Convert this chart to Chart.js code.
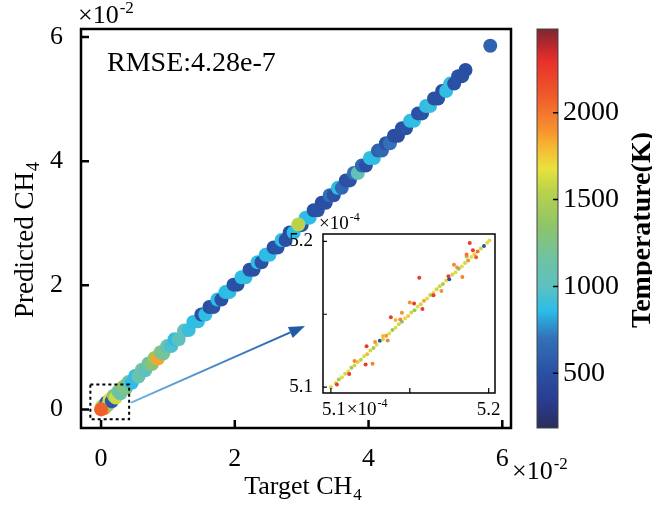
<!DOCTYPE html>
<html>
<head>
<meta charset="utf-8">
<script src="https://cdn.jsdelivr.net/npm/chart.js@4.4.0/dist/chart.umd.min.js"></script>
<style>
  html, body { margin: 0; padding: 0; background: #fff; }
  #wrap { position: relative; width: 652px; height: 510px; overflow: hidden; }
  #main { position: absolute; left: 0; top: 0; }
  #inset { position: absolute; left: 280px; top: 200px; }
</style>
</head>
<body>
<div id="wrap">
  <canvas id="main" width="652" height="510"></canvas>
  <canvas id="inset" width="240" height="225"></canvas>
</div>
<script>
// main panel, values in units of 1e-2
const targetCH4 = [0.02, 0.05, 0.08, 0.10, 0.13, 0.16, 0.19, 0.22, 0.26, 0.29, 0.33, 0.37, 0.41, 0.46, 0.51,
  0.56, 0.61, 0.66, 0.71, 0.76, 0.80, 0.85, 0.89, 0.93, 0.99, 1.05, 1.10, 1.16, 1.24, 1.31, 1.38, 1.45,
  1.50, 1.56, 1.62, 1.68, 1.74, 1.80, 1.86, 1.92, 1.98, 2.04, 2.10, 2.16, 2.22, 2.28, 2.34, 2.40, 2.46,
  2.52, 2.58, 2.64, 2.70, 2.76, 2.82, 2.88, 3.00, 3.06, 3.12, 3.18, 3.24, 3.30, 3.36, 3.42, 3.48,
  3.54, 3.60, 3.66, 3.72, 3.78, 3.84, 3.90, 3.96, 4.02, 4.08, 4.14, 4.20, 4.26, 4.32, 4.38, 4.44, 4.50,
  4.56, 4.62, 4.68, 4.74, 4.80, 4.86, 4.92, 4.98, 5.04, 5.10, 5.16, 5.22, 5.28, 5.34, 5.40, 5.45,
  2.95, 5.82, 0.00];
const predictedCH4 = [0.05, 0.02, 0.11, 0.07, 0.16, 0.13, 0.22, 0.19, 0.29, 0.26, 0.36, 0.34, 0.44, 0.43, 0.54,
  0.53, 0.64, 0.63, 0.74, 0.73, 0.83, 0.82, 0.92, 0.90, 1.02, 1.02, 1.13, 1.13, 1.27, 1.28, 1.41, 1.42,
  1.53, 1.53, 1.65, 1.65, 1.77, 1.77, 1.89, 1.89, 2.01, 2.01, 2.13, 2.13, 2.25, 2.25, 2.37, 2.37, 2.49,
  2.49, 2.61, 2.61, 2.73, 2.73, 2.85, 2.85, 2.97, 3.09, 3.09, 3.21, 3.21, 3.33, 3.33, 3.45, 3.45,
  3.57, 3.57, 3.69, 3.69, 3.81, 3.81, 3.93, 3.93, 4.05, 4.05, 4.17, 4.17, 4.29, 4.29, 4.41, 4.41, 4.53,
  4.53, 4.65, 4.65, 4.77, 4.77, 4.89, 4.89, 5.01, 5.01, 5.13, 5.13, 5.25, 5.25, 5.37, 5.37, 5.47,
  2.98, 5.86, 0.00];
const temperature = [1500, 1950, 600, 1400, 1700, 550, 1300, 1600, 1200, 1100, 1350, 1250, 1150, 870, 880,
  1100, 1200, 1000, 1150, 1300, 1400, 1850, 1250, 1200, 1100, 950, 870, 1000, 1050, 900, 870, 880,
  520, 870, 500, 520, 870, 500, 860, 870, 520, 500, 870, 880, 520, 500, 870, 520, 860,
  870, 500, 520, 870, 500, 480, 860, 500, 870, 860, 500, 520, 480, 500, 700, 520,
  870, 650, 500, 520, 700, 1050, 650, 500, 880, 870, 600, 650, 520, 700, 500, 480, 500,
  520, 870, 880, 500, 520, 870, 900, 500, 500, 480, 870, 900, 500, 520, 500, 490,
  1550, 620, 2080];

// inset, values in units of 1e-4
const insetTarget = [5.100, 5.103, 5.105, 5.107, 5.109, 5.111, 5.113, 5.115, 5.117, 5.119, 5.121, 5.123,
  5.125, 5.127, 5.129, 5.131, 5.133, 5.135, 5.137, 5.139, 5.141, 5.143, 5.145, 5.147, 5.149, 5.151,
  5.153, 5.155, 5.157, 5.159, 5.161, 5.163, 5.165, 5.167, 5.169, 5.171, 5.173, 5.175, 5.177, 5.179,
  5.181, 5.183, 5.185, 5.187, 5.189, 5.191, 5.193, 5.195, 5.197, 5.199, 5.2005, 5.186,
  5.156, 5.138, 5.122, 5.1264, 5.158, 5.1833, 5.165, 5.188, 5.190, 5.178, 5.180, 5.1745, 5.150,
  5.1527, 5.144, 5.136, 5.1116, 5.1226, 5.145, 5.1038, 5.128, 5.141, 5.170, 5.186, 5.192, 5.115, 5.133];
const insetPredicted = [5.1000, 5.1028, 5.1052, 5.1068, 5.1092, 5.1108, 5.1133, 5.1148, 5.1172, 5.1188,
  5.1212, 5.1225, 5.1252, 5.1268, 5.1290, 5.1318, 5.1328, 5.1352, 5.1368, 5.1392, 5.1408, 5.1432,
  5.1448, 5.1472, 5.1488, 5.1512, 5.1528, 5.1552, 5.1568, 5.1592, 5.1608, 5.1632, 5.1648, 5.1672,
  5.1692, 5.1708, 5.1732, 5.1740, 5.1772, 5.1788, 5.1812, 5.1828, 5.1852, 5.1868, 5.1892, 5.1912,
  5.1930, 5.1950, 5.1968, 5.1990, 5.2005, 5.1895,
  5.175, 5.148, 5.1155, 5.116, 5.1536, 5.1755, 5.163, 5.1988, 5.1938, 5.184, 5.182, 5.176, 5.158,
  5.1573, 5.1464, 5.132, 5.109, 5.128, 5.151, 5.1018, 5.131, 5.146, 5.166, 5.191, 5.189, 5.118, 5.135];
const insetTemp = [1600, 1700, 1450, 1650, 1600, 1700, 1400, 1600, 1750, 1550, 1650, 1800,
  1600, 1450, 1700, 500, 1600, 1900, 1650, 1400, 1700, 1600, 1250, 1650, 1750, 1600,
  1400, 1700, 1600, 1850, 1650, 1550, 1700, 1600, 1600, 1450, 1700, 500, 1600, 1650,
  1300, 1700, 1600, 1900, 1650, 1750, 2000, 1600, 500, 1650, 1700, 1400,
  2250, 2250, 2250, 1950, 2250, 1950, 2250, 2250, 2250, 1950, 1900, 2250, 1900,
  2250, 1950, 1950, 2250, 2250, 1900, 2250, 1900, 1800, 1900, 2000, 2100, 1950, 1800];

const axisTicks = [0, 2, 4, 6];
const insetTicks = [5.1, 5.15, 5.2];
const cbarTicks = [500, 1000, 1500, 2000];
const tempMin = 184, tempMax = 2483;
const rmseLabel = 'RMSE:4.28e-7';

const SERIF = "'Liberation Serif', 'Times New Roman', serif";
Chart.defaults.font.family = SERIF;
Chart.defaults.color = '#000';

// colormap of the colour bar (temperature -> colour)
const cmap = [
  [184, '#2b2d5c'], [350, '#2a3d93'], [500, '#2a50a3'], [700, '#3370b8'], [860, '#2bbde8'],
  [1000, '#5ec1c0'], [1150, '#6dc2a5'], [1345, '#8ec46a'], [1550, '#bad24c'], [1680, '#e8e23c'],
  [1800, '#f6b833'], [1900, '#f6922e'], [2100, '#f05a2a'], [2300, '#e8302a'], [2400, '#b22630'],
  [2483, '#7a2a2e']
];

function hexRgb(h) {
  return [parseInt(h.slice(1, 3), 16), parseInt(h.slice(3, 5), 16), parseInt(h.slice(5, 7), 16)];
}

function tempColor(t) {
  if (t <= cmap[0][0]) return cmap[0][1];
  for (let i = 1; i < cmap.length; i++) {
    if (t <= cmap[i][0]) {
      const f = (t - cmap[i - 1][0]) / (cmap[i][0] - cmap[i - 1][0]);
      const a = hexRgb(cmap[i - 1][1]), b = hexRgb(cmap[i][1]);
      const c = a.map((v, k) => Math.round(v + (b[k] - v) * f));
      return `rgb(${c[0]},${c[1]},${c[2]})`;
    }
  }
  return cmap[cmap.length - 1][1];
}

// fixed size for a scale, no extra padding from its labels
function fixSize(prop, size) {
  return s => {
    s[prop] = size;
    s.paddingTop = s.paddingBottom = s.paddingLeft = s.paddingRight = 0;
  };
}

function setTicks(values) {
  return s => { s.ticks = values.map(value => ({ value })); };
}

// text with a sub/superscript part
function scriptWidth(ctx, base, script, size) {
  ctx.font = `${size}px ${SERIF}`;
  const w = ctx.measureText(base).width;
  ctx.font = `${Math.round(size * 0.65)}px ${SERIF}`;
  return w + 1 + ctx.measureText(script).width;
}

function drawScript(ctx, x, y, base, script, size, shift) {
  ctx.textAlign = 'left';
  ctx.textBaseline = 'alphabetic';
  ctx.font = `${size}px ${SERIF}`;
  ctx.fillText(base, x, y);
  const w = ctx.measureText(base).width;
  ctx.font = `${Math.round(size * 0.65)}px ${SERIF}`;
  ctx.fillText(script, x + w + 1, y + shift);
}

const mainDecor = {
  id: 'mainDecor',
  afterDraw(chart) {
    const { ctx, chartArea: a, scales } = chart;
    const xs = scales.x, ys = scales.y, cb = scales.cbar;
    ctx.save();
    ctx.fillStyle = '#000';
    ctx.strokeStyle = '#000';

    // frame and inward ticks
    ctx.lineWidth = 2.5;
    ctx.strokeRect(a.left, a.top, a.right - a.left, a.bottom - a.top);
    ctx.beginPath();
    axisTicks.forEach(v => {
      const px = xs.getPixelForValue(v);
      ctx.moveTo(px, a.bottom);
      ctx.lineTo(px, a.bottom - 8);
      const py = ys.getPixelForValue(v);
      ctx.moveTo(a.left, py);
      ctx.lineTo(a.left + 8, py);
    });
    ctx.stroke();

    // zoom box
    ctx.lineWidth = 2;
    ctx.setLineDash([3, 3]);
    const bx0 = xs.getPixelForValue(-0.16), bx1 = xs.getPixelForValue(0.42);
    const by0 = ys.getPixelForValue(0.40), by1 = ys.getPixelForValue(-0.16);
    ctx.strokeRect(bx0, by0, bx1 - bx0, by1 - by0);
    ctx.setLineDash([]);

    // arrow towards the inset
    const sx = bx1 + 2, sy = ys.getPixelForValue(0.11);
    const ex = 305, ey = 326;
    const ang = Math.atan2(ey - sy, ex - sx);
    const hx = ex - 16 * Math.cos(ang), hy = ey - 16 * Math.sin(ang);
    const grad = ctx.createLinearGradient(sx, sy, ex, ey);
    grad.addColorStop(0, '#6db3e4');
    grad.addColorStop(1, '#1f5ca8');
    ctx.strokeStyle = grad;
    ctx.lineWidth = 2;
    ctx.beginPath();
    ctx.moveTo(sx, sy);
    ctx.lineTo(hx, hy);
    ctx.stroke();
    ctx.fillStyle = '#1f5ca8';
    ctx.beginPath();
    ctx.moveTo(ex, ey);
    ctx.lineTo(hx + 6 * Math.sin(ang), hy - 6 * Math.cos(ang));
    ctx.lineTo(hx - 6 * Math.sin(ang), hy + 6 * Math.cos(ang));
    ctx.closePath();
    ctx.fill();

    // texts
    ctx.fillStyle = '#000';
    ctx.font = `28px ${SERIF}`;
    ctx.textAlign = 'left';
    ctx.textBaseline = 'alphabetic';
    ctx.fillText(rmseLabel, 107, 71);

    drawScript(ctx, 78, 23, '\u00d710', '-2', 26, -10);
    drawScript(ctx, 512, 479, '\u00d710', '-2', 26, -10);

    // x title
    let w = scriptWidth(ctx, 'Target CH', '4', 26);
    drawScript(ctx, (a.left + a.right) / 2 - w / 2 + 7, 494, 'Target CH', '4', 26, 6);

    // y title
    ctx.save();
    ctx.translate(33, 240);
    ctx.rotate(-Math.PI / 2);
    w = scriptWidth(ctx, 'Predicted CH', '4', 27);
    drawScript(ctx, -w / 2, 0, 'Predicted CH', '4', 27, 6);
    ctx.restore();

    // colour bar
    const cx0 = 537, cx1 = 558;
    const ct = cb.getPixelForValue(tempMax), cbt = cb.getPixelForValue(tempMin);
    const cg = ctx.createLinearGradient(0, cbt, 0, ct);
    cmap.forEach(([v, c]) => cg.addColorStop((v - tempMin) / (tempMax - tempMin), c));
    ctx.fillStyle = cg;
    ctx.fillRect(cx0, ct, cx1 - cx0, cbt - ct);
    ctx.strokeStyle = '#444';
    ctx.lineWidth = 1;
    ctx.strokeRect(cx0, ct, cx1 - cx0, cbt - ct);
    ctx.strokeStyle = '#000';
    ctx.lineWidth = 1.5;
    ctx.beginPath();
    cbarTicks.forEach(v => {
      const py = cb.getPixelForValue(v);
      ctx.moveTo(cx1, py);
      ctx.lineTo(cx1 - 5, py);
    });
    ctx.stroke();

    ctx.save();
    ctx.translate(650, 230);
    ctx.rotate(-Math.PI / 2);
    ctx.fillStyle = '#000';
    ctx.font = `bold 28px ${SERIF}`;
    ctx.textAlign = 'center';
    ctx.textBaseline = 'alphabetic';
    ctx.fillText('Temperature(K)', 0, 0);
    ctx.restore();

    ctx.restore();
  }
};

new Chart(document.getElementById('main'), {
  type: 'scatter',
  data: {
    datasets: [{
      data: targetCH4.map((x, i) => ({ x, y: predictedCH4[i] })),
      pointRadius: 7,
      pointHoverRadius: 7,
      pointBorderWidth: 0,
      pointBackgroundColor: temperature.map(tempColor)
    }]
  },
  options: {
    responsive: false,
    animation: false,
    devicePixelRatio: 1,
    layout: { padding: { top: 29, left: 0, right: 0, bottom: 0 }, autoPadding: false },
    plugins: { legend: { display: false }, tooltip: { enabled: false } },
    scales: {
      x: {
        type: 'linear', min: -0.3, max: 6.13,
        grid: { display: false }, border: { display: false },
        ticks: { padding: 8, font: { size: 26 }, callback: v => String(v) },
        afterBuildTicks: setTicks(axisTicks),
        afterFit: fixSize('height', 82)
      },
      y: {
        type: 'linear', min: -0.3, max: 6.13,
        grid: { display: false }, border: { display: false },
        ticks: { padding: 10, font: { size: 26 }, callback: v => String(v) },
        afterBuildTicks: setTicks(axisTicks),
        afterFit: fixSize('width', 81)
      },
      cbar: {
        type: 'linear', axis: 'y', position: 'right', min: tempMin, max: tempMax,
        grid: { display: false }, border: { display: false },
        ticks: { padding: 44, font: { size: 28 }, callback: v => String(v) },
        afterBuildTicks: setTicks(cbarTicks),
        afterFit: fixSize('width', 141)
      }
    }
  },
  plugins: [mainDecor]
});

const insetDecor = {
  id: 'insetDecor',
  beforeDraw(chart) {
    const { ctx, chartArea: a } = chart;
    ctx.save();
    ctx.fillStyle = '#fff';
    ctx.fillRect(a.left, a.top, a.right - a.left, a.bottom - a.top);
    ctx.restore();
  },
  afterDraw(chart) {
    const { ctx, chartArea: a, scales: { x: xs, y: ys } } = chart;
    ctx.save();
    ctx.strokeStyle = '#000';
    ctx.fillStyle = '#000';
    ctx.lineWidth = 1.5;
    ctx.strokeRect(a.left, a.top, a.right - a.left, a.bottom - a.top);
    ctx.lineWidth = 1.2;
    ctx.beginPath();
    insetTicks.forEach(v => {
      const px = xs.getPixelForValue(v);
      ctx.moveTo(px, a.bottom);
      ctx.lineTo(px, a.bottom - 5);
      const py = ys.getPixelForValue(v);
      ctx.moveTo(a.left, py);
      ctx.lineTo(a.left + 4, py);
    });
    ctx.stroke();

    // x tick labels with the exponent after the first one
    const p1 = xs.getPixelForValue(5.1), p2 = xs.getPixelForValue(5.2);
    ctx.font = `19px ${SERIF}`;
    const w1 = ctx.measureText('5.1').width;
    ctx.textAlign = 'left';
    ctx.textBaseline = 'alphabetic';
    ctx.fillText('5.1', p1 + 3 - w1 / 2, a.bottom + 22);
    drawScript(ctx, p1 + 3 + w1 / 2 + 1, a.bottom + 22, '\u00d710', '-4', 19, -8);
    ctx.font = `19px ${SERIF}`;
    ctx.textAlign = 'center';
    ctx.fillText('5.2', p2, a.bottom + 22);

    drawScript(ctx, a.left - 4, a.top - 5, '\u00d710', '-4', 19, -8);
    ctx.restore();
  }
};

new Chart(document.getElementById('inset'), {
  type: 'scatter',
  data: {
    datasets: [{
      data: insetTarget.map((x, i) => ({ x, y: insetPredicted[i] })),
      pointRadius: 2,
      pointHoverRadius: 2,
      pointBorderWidth: 0,
      pointBackgroundColor: insetTemp.map(tempColor)
    }]
  },
  options: {
    responsive: false,
    animation: false,
    devicePixelRatio: 1,
    layout: { padding: { top: 34, right: 25, left: 0, bottom: 0 }, autoPadding: false },
    plugins: { legend: { display: false }, tooltip: { enabled: false } },
    scales: {
      x: {
        type: 'linear', min: 5.095, max: 5.204,
        grid: { display: false }, border: { display: false },
        ticks: { display: false },
        afterBuildTicks: setTicks(insetTicks),
        afterFit: fixSize('height', 32)
      },
      y: {
        type: 'linear', min: 5.096, max: 5.205,
        grid: { display: false }, border: { display: false },
        ticks: {
          padding: 2, font: { size: 19 },
          callback: v => Math.abs(v - 5.15) < 1e-6 ? '' : v.toFixed(1)
        },
        afterBuildTicks: setTicks(insetTicks),
        afterFit: fixSize('width', 43)
      }
    }
  },
  plugins: [insetDecor]
});
</script>
</body>
</html>
